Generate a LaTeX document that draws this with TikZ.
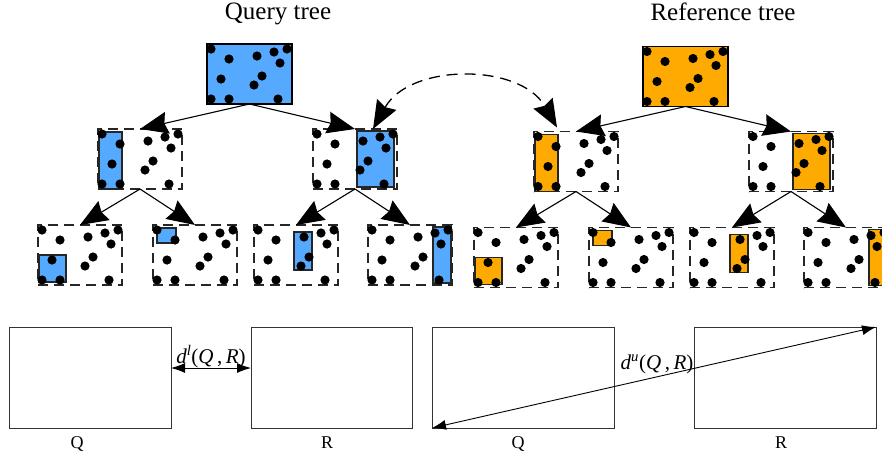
\documentclass[tikz,border=0pt]{standalone}
\usepackage{fontspec}
\setmainfont{Liberation Serif}
\usetikzlibrary{arrows.meta}
\definecolor{qblue}{RGB}{85,170,255}
\definecolor{rorange}{RGB}{255,170,0}

\tikzset{
  rootbox/.style={draw=black, line width=1.3pt, minimum width=85pt, minimum height=60pt,
    inner sep=0pt, outer sep=0pt, anchor=north west},
  cellbox/.style={draw=black!85, line width=1.2pt, dash pattern=on 10pt off 6pt,
    minimum width=84pt, minimum height=60pt, inner sep=0pt, outer sep=0pt, anchor=north west},
  cellrect/.style={fill=#1, draw=black!85, line width=1.1pt},
  treearrow/.style={-{Stealth[length=28pt,width=22pt,inset=3pt]}, line width=1.1pt},
  dasharrow/.style={{Stealth[length=28pt,width=22pt,inset=3pt]}-{Stealth[length=28pt,width=22pt,inset=3pt]},
    line width=1.3pt, dash pattern=on 11pt off 7pt},
  plainbox/.style={draw=black!80, line width=0.8pt, minimum height=101pt,
    inner sep=0pt, outer sep=0pt, anchor=north west},
  dimarrow/.style={{Latex[length=14pt,width=10pt]}-{Latex[length=14pt,width=10pt]}, line width=0.9pt},
  lbl/.style={anchor=base, inner sep=0pt, font=\fontsize{18}{20}\selectfont},
  title/.style={anchor=base, inner sep=0pt, font=\fontsize{25}{28}\selectfont},
  dlbl/.style={anchor=base, inner sep=0pt, font=\fontsize{21}{24}\selectfont},
}

\newcommand{\kdpts}[2]{%
  \foreach \px/\py in {4/5,22/15,50/12,67/8,80/5,73/19,14/35,55/32,47/41,4/55,22/55,71/55}
    {\fill ({#1+\px},{#2+\py}) circle (4.6pt);}}

\newcommand{\kdtree}[2]{%
  % root
  \node[rootbox, fill=#2] (#1root) at (207,44) {};
  \kdpts{207}{44}
  % level 2
  \filldraw[cellrect=#2] (99,132) rectangle (122,189);
  \node[cellbox] (#1a) at (98,129) {};
  \kdpts{98}{129}
  \filldraw[cellrect=#2] (357,131) rectangle (394,187);
  \node[cellbox] (#1b) at (313,129) {};
  \kdpts{313}{129}
  % level 3
  \filldraw[cellrect=#2] (39,255) rectangle (66,282);
  \node[cellbox] (#1c) at (38,225) {};
  \kdpts{38}{225}
  \filldraw[cellrect=#2] (157,228) rectangle (176,243);
  \node[cellbox] (#1d) at (153,225) {};
  \kdpts{153}{225}
  \filldraw[cellrect=#2] (294,232) rectangle (312,270);
  \node[cellbox] (#1e) at (254,225) {};
  \kdpts{254}{225}
  \filldraw[cellrect=#2] (433,227) rectangle (451,283);
  \node[cellbox] (#1f) at (368,225) {};
  \kdpts{368}{225}
  % connectors
  \draw[treearrow] (#1root.south) -- (#1a.north);
  \draw[treearrow] (#1root.south) -- (#1b.north);
  \draw[treearrow] (#1a.south) -- (#1c.north);
  \draw[treearrow] (#1a.south) -- (#1d.north);
  \draw[treearrow] (#1b.south) -- (#1e.north);
  \draw[treearrow] (#1b.south) -- (#1f.north);
}

\begin{document}
\begin{tikzpicture}[x=1pt,y=-1pt]
\useasboundingbox (0,0) rectangle (882,459);
\clip (0,0) rectangle (882,459);

\node[title] (tq) at (278,19) {Query tree};
\node[title] (tr) at (723,20) {Reference tree};

\begin{scope}
  \kdtree{q}{qblue}
\end{scope}
\begin{scope}[shift={(436,2.5)}]
  \kdtree{r}{rorange}
\end{scope}

\draw[dasharrow] ([xshift=18pt]qb.north) .. controls (410,63) and (520,63) .. ([xshift=-19pt,yshift=4pt]ra.north);

% bottom
\node[plainbox, minimum width=162pt] (Q1) at (9,327) {};
\node[plainbox, minimum width=161pt] (R1) at (251,327) {};
\node[plainbox, minimum width=182pt] (Q2) at (432,327) {};
\node[plainbox, minimum width=182pt] (R2) at (694,327) {};

\node[lbl] (lq1) at (77,448) {Q};
\node[lbl] (lr1) at (327,448) {R};
\node[lbl] (lq2) at (518,448) {Q};
\node[lbl] (lr2) at (781,448) {R};

\draw[dimarrow] ([yshift=9.5pt]Q1.east) -- ([yshift=9.5pt]R1.west);
\node[dlbl] (dl) at (211,363) {\textit{d}\textsuperscript{\textit{l}}(\textit{Q}\,,\,\textit{R})};

\draw[dimarrow] (Q2.south west) -- (R2.north east);
\node[dlbl] (du) at (657,369) {\textit{d}\textsuperscript{\textit{u}}(\textit{Q}\,,\,\textit{R})};
\end{tikzpicture}
\end{document}
